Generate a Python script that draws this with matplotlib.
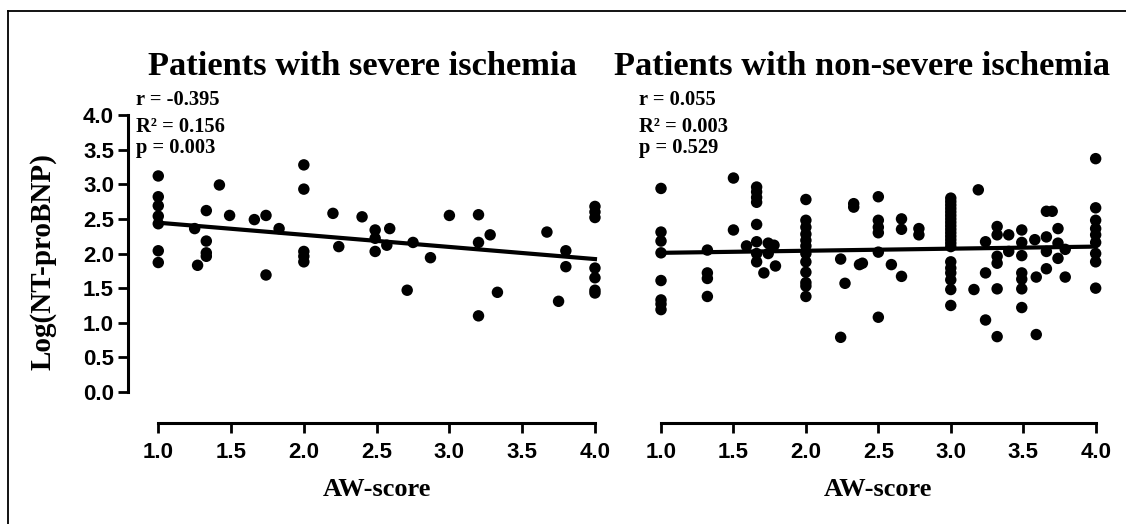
import numpy as np
import matplotlib
matplotlib.use('Agg')
import matplotlib.pyplot as plt
from matplotlib.lines import Line2D

# severe ischemia panel
severe_aw = [1.0, 1.0, 1.0, 1.0, 1.0, 1.0, 1.0,
             1.25, 1.27, 1.33, 1.33, 1.33, 1.33, 1.42, 1.49, 1.66, 1.74, 1.74, 1.83,
             2.0, 2.0, 2.0, 2.0, 2.0, 2.2, 2.24, 2.40, 2.49, 2.49, 2.49, 2.57, 2.59,
             2.71, 2.75, 2.87, 3.0, 3.2, 3.2, 3.2, 3.28, 3.33, 3.67, 3.75, 3.8, 3.8,
             4.0, 4.0, 4.0, 4.0, 4.0, 4.0, 4.0]
severe_bnp = [3.12, 2.82, 2.69, 2.54, 2.43, 2.04, 1.87,
              2.36, 1.83, 2.62, 2.18, 2.01, 1.96, 2.99, 2.55, 2.49, 2.55, 1.69, 2.36,
              3.28, 2.93, 2.03, 1.96, 1.88, 2.58, 2.10, 2.53, 2.34, 2.22, 2.03, 2.12, 2.36,
              1.47, 2.16, 1.94, 2.55, 2.56, 2.16, 1.10, 2.27, 1.44, 2.31, 1.31, 2.04, 1.81,
              2.68, 2.60, 2.52, 1.79, 1.65, 1.47, 1.43]
severe_fit = (2.62, -0.175)  # intercept, slope
severe_stats = ["r = -0.395", "R² = 0.156", "p = 0.003"]

# non-severe ischemia panel
nonsevere_aw = [1.0] * 8 + [1.32] * 4 + [1.5, 1.5, 1.59] + [1.66] * 8 + \
               [1.71, 1.74, 1.74, 1.78, 1.79] + [2.0] * 12 + \
               [2.24, 2.24, 2.27, 2.33, 2.33, 2.37, 2.39] + [2.5] * 6 + \
               [2.59, 2.66, 2.66, 2.66, 2.78, 2.78] + [3.0] * 21 + \
               [3.16, 3.19, 3.24, 3.24, 3.24] + [3.32] * 6 + [3.40, 3.40] + [3.49] * 7 + \
               [3.58, 3.59, 3.59] + [3.66] * 4 + [3.70, 3.74, 3.74, 3.74, 3.79, 3.79] + [4.0] * 9
nonsevere_bnp = [2.94, 2.31, 2.18, 2.01, 1.61, 1.33, 1.27, 1.19,
                 2.05, 1.72, 1.64, 1.38,
                 3.09, 2.34, 2.11,
                 2.96, 2.89, 2.81, 2.74, 2.42, 2.17, 2.00, 1.88,
                 1.72, 2.15, 2.00, 2.12, 1.82,
                 2.78, 2.48, 2.38, 2.28, 2.19, 2.11, 2.00, 1.88, 1.73, 1.58, 1.53, 1.38,
                 1.92, 0.79, 1.57, 2.72, 2.67, 1.84, 1.86,
                 2.82, 2.48, 2.38, 2.30, 2.02, 1.08,
                 1.84, 2.50, 2.35, 1.67, 2.36, 2.27,
                 2.80, 2.75, 2.70, 2.65, 2.60, 2.55, 2.50, 2.45, 2.40, 2.35, 2.30, 2.25,
                 2.20, 2.15, 2.10, 1.88, 1.79, 1.72, 1.62, 1.48, 1.25,
                 1.48, 2.92, 2.17, 1.72, 1.04,
                 2.39, 2.27, 1.96, 1.86, 1.49, 0.80,
                 2.27, 2.03,
                 2.34, 2.16, 1.97, 1.72, 1.63, 1.49, 1.22,
                 2.20, 1.66, 0.83,
                 2.61, 2.24, 2.03, 1.78,
                 2.61, 2.36, 2.15, 1.93, 2.06, 1.66,
                 3.37, 2.66, 2.48, 2.36, 2.27, 2.16, 2.00, 1.88, 1.50]
nonsevere_fit = (1.98, 0.03)
nonsevere_stats = ["r = 0.055", "R² = 0.003", "p = 0.529"]

titles = ["Patients with severe ischemia", "Patients with non-severe ischemia"]
x_ticks = [1.0, 1.5, 2.0, 2.5, 3.0, 3.5, 4.0]
y_ticks = [0.0, 0.5, 1.0, 1.5, 2.0, 2.5, 3.0, 3.5, 4.0]

serif = 'Liberation Serif'
sans = 'Liberation Sans'

W, H = 1126, 524
fig = plt.figure(figsize=(W / 100, H / 100), dpi=100)


def px_axes(x0, x1, y_top, y_bot):
    return fig.add_axes([x0 / W, 1 - y_bot / H, (x1 - x0) / W, (y_bot - y_top) / H])


ax1 = px_axes(128, 605, 100, 422.7)
ax2 = px_axes(640, 1110, 100, 422.7)
ax1.set_xlim(0.792, 4.069)
ax2.set_xlim(0.855, 4.099)

panels = [(ax1, severe_aw, severe_bnp, severe_fit, severe_stats, 376.7),
          (ax2, nonsevere_aw, nonsevere_bnp, nonsevere_fit, nonsevere_stats, 878.4)]

for ax, aw, bnp, fit, stats, cx in panels:
    ax.scatter(aw, bnp, s=68, color='black', edgecolors='none', zorder=3, clip_on=False)
    xs = np.array([1.0, 4.0])
    ax.plot(xs, fit[0] + fit[1] * xs, color='black', lw=3, zorder=4)
    ax.set_ylim(-0.443, 4.217)
    ax.spines['top'].set_visible(False)
    ax.spines['right'].set_visible(False)
    ax.spines['bottom'].set_bounds(1.0, 4.0)
    ax.spines['bottom'].set_linewidth(2.2)
    ax.set_xticks(x_ticks)
    ax.set_xticklabels([f"{t:.1f}" for t in x_ticks], fontfamily=sans, fontweight='bold', fontsize=16)
    ax.tick_params(axis='x', direction='out', length=7, width=2, pad=7)
    ax.set_xlabel("AW-score", fontfamily=serif, fontweight='bold', fontsize=19)
    x0 = ax.get_position().x0 * W
    x1 = ax.get_position().x1 * W
    ax.xaxis.set_label_coords((cx - x0) / (x1 - x0), -0.17)
    for i, s in enumerate(stats):
        ax.text(0.85, [4.144, 3.759, 3.456][i], s, fontfamily=serif, fontweight='bold',
                fontsize=14.8, va='baseline', ha='left')

ax1.spines['left'].set_bounds(0.0, 4.0)
ax1.spines['left'].set_linewidth(2.2)
ax1.set_yticks(y_ticks)
ax1.set_yticklabels([f"{t:.1f}" for t in y_ticks], fontfamily=sans, fontweight='bold', fontsize=16)
ax1.tick_params(axis='y', direction='out', length=7, width=2, pad=3)
ax1.set_ylabel("Log(NT-proBNP)", fontfamily=serif, fontweight='bold', fontsize=21)
ax1.yaxis.set_label_coords(-0.15, 0.5)

ax2.spines['left'].set_visible(False)
ax2.set_yticks([])

fig.text(362.5 / W, 1 - 75 / H, titles[0], fontfamily=serif, fontweight='bold',
         fontsize=24.8, ha='center', va='baseline')
fig.text(862 / W, 1 - 75 / H, titles[1], fontfamily=serif, fontweight='bold',
         fontsize=24.8, ha='center', va='baseline')

# thin frame on the left and top edges
fig.add_artist(Line2D([8 / W, 8 / W], [0, 1 - 10.7 / H], color='black', lw=1.3,
                      transform=fig.transFigure))
fig.add_artist(Line2D([8 / W, 1], [1 - 10.7 / H, 1 - 10.7 / H], color='black', lw=1.3,
                      transform=fig.transFigure))

fig.savefig("out.png", dpi=100)
